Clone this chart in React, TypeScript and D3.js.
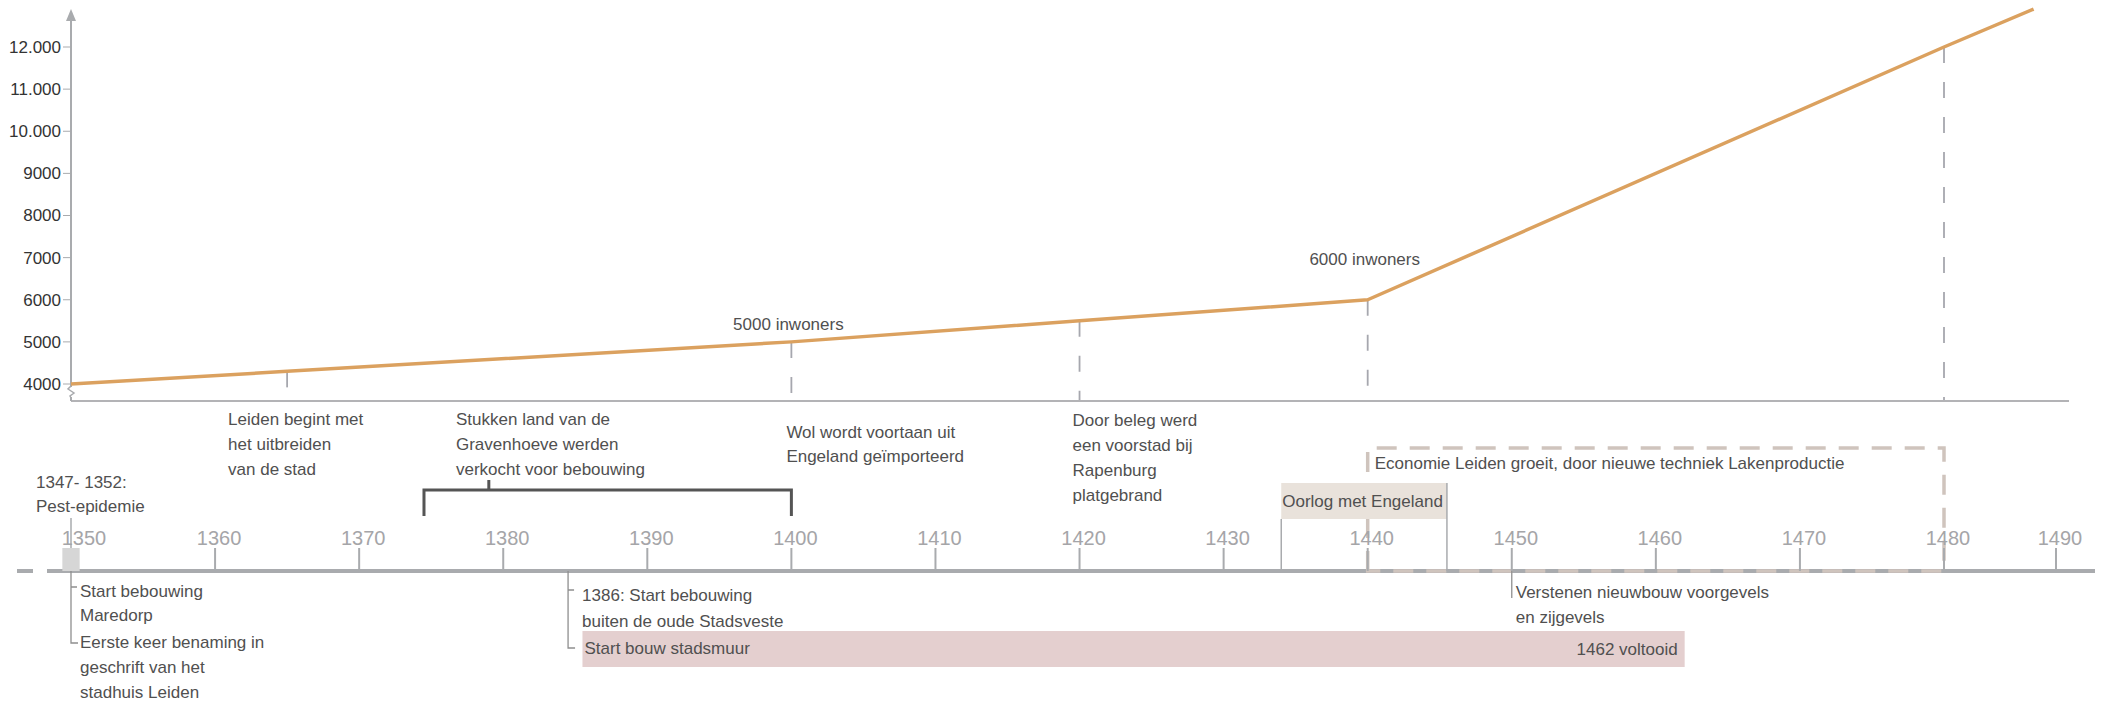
import React from 'react';
import * as d3 from 'd3';

// ---------- data ----------
const popYears = [1350, 1365, 1400, 1420, 1440, 1480, 1488];
const popValues = [4000, 4300, 5000, 5500, 6000, 12000, 12900];
const dropYears = [1365, 1400, 1420, 1440, 1480];
const yTickValues = [4000, 5000, 6000, 7000, 8000, 9000, 10000, 11000, 12000];
const timelineYears = [1350, 1360, 1370, 1380, 1390, 1400, 1410, 1420, 1430, 1440, 1450, 1460, 1470, 1480, 1490];
const popLabelYears = [1400, 1440];
const popLabelTexts = ['5000 inwoners', '6000 inwoners'];

const leidenText = ['Leiden begint met', 'het uitbreiden', 'van de stad'];
const stukkenText = ['Stukken land van de', 'Gravenhoeve werden', 'verkocht voor bebouwing'];
const wolText = ['Wol wordt voortaan uit', 'Engeland geïmporteerd'];
const belegText = ['Door beleg werd', 'een voorstad bij', 'Rapenburg', 'platgebrand'];
const pestText = ['1347- 1352:', 'Pest-epidemie'];
const economieText = 'Economie Leiden groeit, door nieuwe techniek Lakenproductie';
const oorlogText = 'Oorlog met Engeland';
const maredorpText = ['Start bebouwing', 'Maredorp'];
const benamingText = ['Eerste keer benaming in', 'geschrift van het', 'stadhuis Leiden'];
const stadsvesteText = ['1386: Start bebouwing', 'buiten de oude Stadsveste'];
const stadsmuurStart = 'Start bouw stadsmuur';
const stadsmuurEnd = '1462 voltooid';
const verstenenText = ['Verstenen nieuwbouw voorgevels', 'en zijgevels'];

// event years / spans
const bracketSpan = [1374.5, 1400];
const bracketTickYear = 1379;
const pestSpan = [1349.4, 1350.6];
const oorlogSpan = [1434, 1445.5];
const economieSpan = [1440, 1480];
const stadsmuurSpan = [1385.5, 1462];
const maredorpYear = 1350;
const stadsvesteYear = 1384.5;
const verstenenYear = 1450;

// ---------- style ----------
const FONT = "'Liberation Sans', Arial, Helvetica, sans-serif";
const TEXT = '#505050';
const AXIS = '#a9abae';
const ORANGE = '#dba15f';

export default function App() {
  const W = 2102, H = 702;
  const x = d3.scaleLinear().domain([1350, 1480, 1490]).range([71, 1944, 2056]);
  const y = d3.scaleLinear().domain([4000, 12000]).range([384, 47]);
  const baseY = 401;
  const tlY = 571;

  const pts = popYears.map((yr, i) => [x(yr), y(popValues[i])] as [number, number]);
  const lineGen = d3.line();
  const nlFormat = d3.formatLocale({ decimal: ',', thousands: '.', grouping: [3], currency: ['€', ''] }).format(',');
  const fmt = (v: number) => (v >= 10000 ? nlFormat(v) : String(v));

  const txt = (lines: string[], tx: number, ty: number, lh = 25, extra: any = {}) =>
    lines.map((l, i) => (
      <text key={i} x={tx} y={ty + i * lh} fontSize={17} fill={TEXT} {...extra}>{l}</text>
    ));

  return (
    <div style={{ position: 'absolute', left: 0, top: 0 }}>
      <svg width={W} height={H} style={{ display: 'block', fontFamily: FONT }}>
        <rect width={W} height={H} fill="#fff" />

        {/* ---------- top chart ---------- */}
        {/* drop lines */}
        {dropYears.map((yr) => {
          const v = popValues[popYears.indexOf(yr)];
          return (
            <line key={yr} x1={x(yr)} x2={x(yr)} y1={y(v)} y2={baseY}
              stroke="#a6a7ae" strokeWidth={1.8} strokeDasharray="16 19" />
          );
        })}
        {/* baseline */}
        <line x1={71} x2={2069} y1={baseY} y2={baseY} stroke="#b3b3b6" strokeWidth={2} />
        {/* y axis */}
        <line x1={71} x2={71} y1={baseY} y2={16} stroke={AXIS} strokeWidth={2} />
        <polygon points="71,9 66,21 76,21" fill={AXIS} />
        {/* axis break */}
        <rect x={66} y={387} width={10} height={10} fill="#fff" />
        <path d="M71 386 L68 389 L74 393 L70 396 L71 398" fill="none" stroke={AXIS} strokeWidth={1.5} />
        {yTickValues.map((v) => (
          <g key={v}>
            <line x1={63} x2={71} y1={y(v)} y2={y(v)} stroke={AXIS} strokeWidth={1} />
            <text x={61} y={y(v)} dy="0.35em" textAnchor="end" fontSize={17} fill="#333">{fmt(v)}</text>
          </g>
        ))}
        {/* population line */}
        <path d={lineGen(pts) || ''} fill="none" stroke={ORANGE} strokeWidth={3.5} strokeLinejoin="round" />
        {popLabelYears.map((yr, i) => {
          const v = popValues[popYears.indexOf(yr)];
          const off = i === 0 ? 12 : 35;
          return (
            <text key={yr} x={x(yr) - 3} y={y(v) - off} textAnchor="middle" fontSize={17} fill={TEXT}>{popLabelTexts[i]}</text>
          );
        })}

        {/* ---------- middle annotations ---------- */}
        {txt(leidenText, x(1365) - 59, 425)}
        {txt(stukkenText, x(bracketSpan[0]) + 32, 425)}
        {txt(wolText, x(1400) - 5, 438, 24)}
        {txt(belegText, x(1420) - 7, 426)}
        {txt(pestText, 36, 488, 24)}
        <path d={`M${x(bracketSpan[0])},516 V490 H${x(bracketSpan[1])} V516 M${x(bracketTickYear)},490 V480`}
          fill="none" stroke="#555" strokeWidth={3} />

        {/* ---------- timeline ---------- */}
        <line x1={17} x2={33} y1={tlY} y2={tlY} stroke={AXIS} strokeWidth={4} />
        <line x1={47} x2={2095} y1={tlY} y2={tlY} stroke={AXIS} strokeWidth={4} />

        {/* economie dashed rect */}
        <path d={`M${x(economieSpan[0])},${tlY} V448 H${x(economieSpan[1])} V${tlY} Z`}
          fill="none" stroke="#cfc4bd" strokeWidth={3.5} strokeDasharray="20 13" />
        <text x={x(economieSpan[0]) + 7} y={469} fontSize={17} fill={TEXT}>{economieText}</text>

        {/* oorlog box */}
        <rect x={x(oorlogSpan[0])} y={483} width={x(oorlogSpan[1]) - x(oorlogSpan[0])} height={36} fill="#e9e2db" />
        <line x1={x(oorlogSpan[0])} x2={x(oorlogSpan[0])} y1={519} y2={tlY} stroke={AXIS} strokeWidth={1.5} />
        <line x1={x(oorlogSpan[1])} x2={x(oorlogSpan[1])} y1={483} y2={tlY} stroke={AXIS} strokeWidth={1.5} />
        <text x={x(oorlogSpan[0]) + 1} y={507} fontSize={17} fill={TEXT}>{oorlogText}</text>

        {/* pest marker */}
        <line x1={x(1350)} x2={x(1350)} y1={518} y2={548} stroke={AXIS} strokeWidth={1.5} />
        <rect x={x(pestSpan[0])} y={548} width={x(pestSpan[1]) - x(pestSpan[0])} height={tlY - 548} fill="#d6d6d6" />

        {/* ticks */}
        {timelineYears.map((yr, i) => (
          <g key={yr}>
            {i > 0 && <line x1={x(yr)} x2={x(yr)} y1={548} y2={tlY} stroke={AXIS} strokeWidth={2} />}
            <text x={x(yr) + (i === 0 ? 13 : 4)} y={545} textAnchor="middle" fontSize={20} fill="#a5a5a8">{yr}</text>
          </g>
        ))}

        {/* stadsmuur bar */}
        <rect x={x(stadsmuurSpan[0])} y={631} width={x(stadsmuurSpan[1]) - x(stadsmuurSpan[0])} height={36} fill="#e4cfcf" />
        <text x={x(stadsmuurSpan[0]) + 2} y={654} fontSize={17} fill={TEXT}>{stadsmuurStart}</text>
        <text x={x(stadsmuurSpan[1]) - 7} y={655} textAnchor="end" fontSize={17} fill={TEXT}>{stadsmuurEnd}</text>

        {/* event lines below axis */}
        <path d={`M${x(maredorpYear)},${tlY} V643 H${x(maredorpYear) + 7} M${x(maredorpYear)},587 H${x(maredorpYear) + 6}`}
          fill="none" stroke="#8f8f8f" strokeWidth={1.3} />
        {txt(maredorpText, x(maredorpYear) + 9, 597, 24)}
        {txt(benamingText, x(maredorpYear) + 9, 648, 25)}

        <path d={`M${x(stadsvesteYear)},${tlY} V648 H${x(stadsvesteYear) + 7} M${x(stadsvesteYear)},590 H${x(stadsvesteYear) + 6}`}
          fill="none" stroke="#8f8f8f" strokeWidth={1.3} />
        {txt(stadsvesteText, x(stadsvesteYear) + 14, 601, 26)}

        <line x1={x(verstenenYear)} x2={x(verstenenYear)} y1={tlY} y2={598} stroke="#8f8f8f" strokeWidth={1.3} />
        {txt(verstenenText, x(verstenenYear) + 4, 598, 25)}
      </svg>
    </div>
  );
}
